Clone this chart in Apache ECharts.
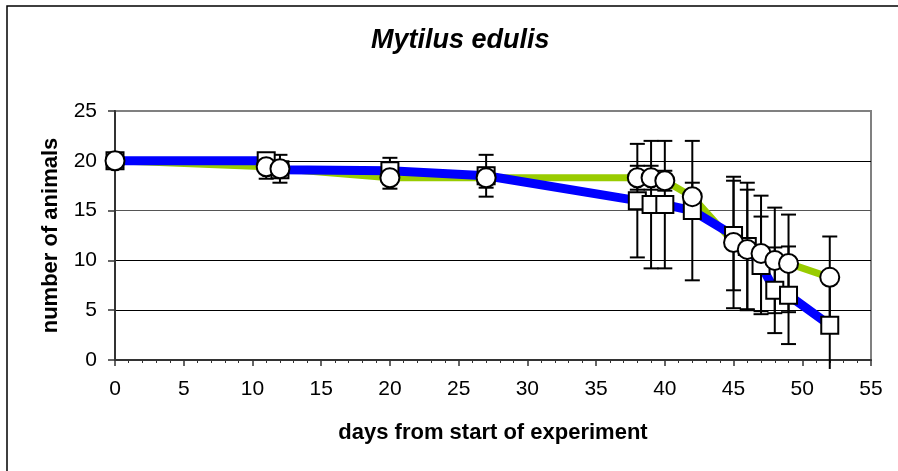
<!DOCTYPE html>
<html>
<head>
<meta charset="utf-8">
<script src="https://cdn.jsdelivr.net/npm/echarts@6/dist/echarts.min.js"></script>
<style>
html,body{margin:0;padding:0;background:#fff;}
#chart{width:898px;height:471px;}
</style>
</head>
<body>
<div id="chart"></div>
<script>
// Data
const days = [0, 11, 12, 20, 27, 38, 39, 40, 42, 45, 46, 47, 48, 49, 52];
const squareValues = [20, 20, 19.1, 19.0, 18.5, 16.0, 15.6, 15.6, 15.0, 12.5, 11.4, 9.5, 7.0, 6.5, 3.5];
const squareErrors = [0, 0, 0, 1.3, 2.1, 5.7, 6.4, 6.4, 7.0, 5.5, 6.4, 4.9, 4.3, 4.9, 4.4];
const circleValues = [20, 19.4, 19.2, 18.3, 18.3, 18.3, 18.3, 18.0, 16.4, 11.8, 11.1, 10.7, 10.0, 9.7, 8.3];
const circleErrors = [0, 1.2, 1.4, 1.1, 1.0, 1.2, 1.2, 1.0, 1.4, 6.6, 6.0, 5.8, 5.3, 4.9, 4.1];
const xTicks = [0, 5, 10, 15, 20, 25, 30, 35, 40, 45, 50, 55];
const yTicks = [0, 5, 10, 15, 20, 25];

const FONT = '"Liberation Sans", Arial, sans-serif';

function pairs(xs, ys) { return xs.map((x, i) => [x, ys[i]]); }
function errData(xs, ys, es) { return xs.map((x, i) => [x, ys[i], es[i]]); }

function errorRender(params, api) {
  const x = api.value(0), y = api.value(1), e = api.value(2);
  if (!e) return null;
  const top = api.coord([x, y + e]);
  const bot = api.coord([x, y - e]);
  const hw = 7.5;
  const style = { stroke: '#000', lineWidth: 2 };
  const children = [
    { type: 'line', shape: { x1: top[0], y1: top[1], x2: bot[0], y2: bot[1] }, style: style },
    { type: 'line', shape: { x1: top[0] - hw, y1: top[1], x2: top[0] + hw, y2: top[1] }, style: style }
  ];
  if (y - e >= 0) {
    children.push({ type: 'line', shape: { x1: bot[0] - hw, y1: bot[1], x2: bot[0] + hw, y2: bot[1] }, style: style });
  }
  return { type: 'group', children: children };
}

const chart = echarts.init(document.getElementById('chart'), null, { renderer: 'canvas' });
chart.setOption({
  animation: false,
  backgroundColor: '#fff',
  title: {
    text: 'Mytilus edulis',
    left: 366,
    top: 22,
    textStyle: { fontFamily: FONT, fontSize: 27, fontWeight: 'bold', fontStyle: 'italic', color: '#000' }
  },
  graphic: [{
    type: 'rect',
    shape: { x: 7, y: 6, width: 1000, height: 1000 },
    style: { fill: 'none', stroke: '#000', lineWidth: 1.5 },
    silent: true
  }],
  grid: {
    left: 115, right: 27, top: 111, bottom: 111,
    show: true, borderColor: '#808080', borderWidth: 2, backgroundColor: '#fff'
  },
  xAxis: {
    type: 'value',
    min: xTicks[0], max: xTicks[xTicks.length - 1], interval: 5,
    name: 'days from start of experiment',
    nameLocation: 'middle',
    nameGap: 62,
    nameTextStyle: { fontFamily: FONT, fontSize: 22, fontWeight: 'bold', color: '#000' },
    axisLine: { show: true, onZero: false, lineStyle: { color: '#333', width: 2 } },
    axisTick: { show: true, length: 6, lineStyle: { color: '#333', width: 1.5 } },
    minorTick: { show: true, splitNumber: 5, length: 3, lineStyle: { color: '#333', width: 1 } },
    axisLabel: { fontFamily: FONT, fontSize: 21, color: '#000', margin: 19 },
    splitLine: { show: false }
  },
  yAxis: {
    type: 'value',
    min: yTicks[0], max: yTicks[yTicks.length - 1], interval: 5,
    name: 'number of animals',
    nameLocation: 'middle',
    nameGap: 53,
    nameTextStyle: { fontFamily: FONT, fontSize: 22, fontWeight: 'bold', color: '#000' },
    axisLine: { show: true, lineStyle: { color: '#333', width: 2 } },
    axisTick: { show: true, length: 7, lineStyle: { color: '#333', width: 1.5 } },
    axisLabel: { fontFamily: FONT, fontSize: 21, color: '#000', margin: 18 },
    splitLine: { show: true, lineStyle: { color: ['#000', '#000', '#000', '#555', '#000', '#808080'], width: 1 } }
  },
  series: [
    {
      type: 'line', name: 'circles-line', data: pairs(days, circleValues),
      symbol: 'none', z: 2,
      lineStyle: { color: '#99CC00', width: 7 }
    },
    {
      type: 'line', name: 'squares-line', data: pairs(days, squareValues),
      symbol: 'none', z: 3,
      lineStyle: { color: '#0000FF', width: 9 }
    },
    {
      type: 'custom', name: 'square-err', data: errData(days, squareValues, squareErrors),
      renderItem: errorRender, z: 4, clip: false,
      encode: { x: 0, y: 1 }
    },
    {
      type: 'custom', name: 'circle-err', data: errData(days, circleValues, circleErrors),
      renderItem: errorRender, z: 4, clip: false,
      encode: { x: 0, y: 1 }
    },
    {
      type: 'scatter', name: 'squares', data: pairs(days, squareValues),
      symbol: 'rect', symbolSize: 17, z: 5,
      itemStyle: { color: '#fff', borderColor: '#000', borderWidth: 2, opacity: 1 }
    },
    {
      type: 'scatter', name: 'circles', data: pairs(days, circleValues),
      symbol: 'circle', symbolSize: 19, z: 6,
      itemStyle: { color: '#fff', borderColor: '#000', borderWidth: 2, opacity: 1 }
    }
  ]
});
</script>
</body>
</html>
